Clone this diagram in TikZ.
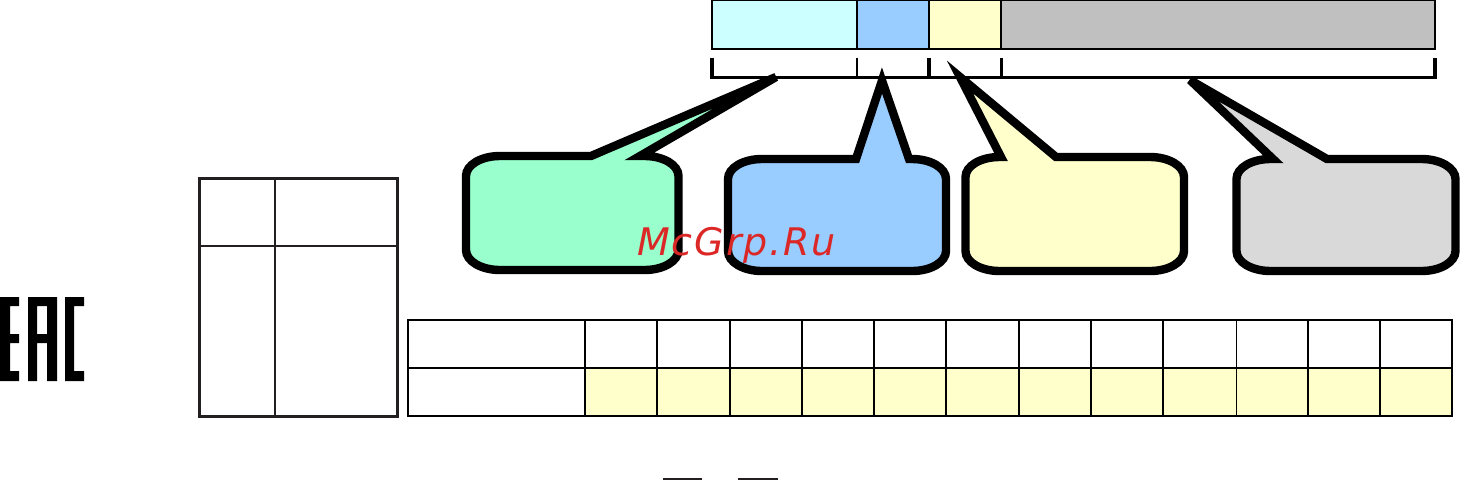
\documentclass[tikz,border=0pt]{standalone}
\usepackage{fontspec}
\newfontfamily\markfont[LetterSpace=5]{DejaVu Sans Oblique}
\definecolor{barcyan}{HTML}{CCFFFF}
\definecolor{barblue}{HTML}{99CCFF}
\definecolor{baryellow}{HTML}{FFFFCC}
\definecolor{bargray}{HTML}{C0C0C0}
\definecolor{bubgreen}{HTML}{99FFCC}
\definecolor{bubgray}{HTML}{D9D9D9}
\definecolor{markred}{HTML}{DC2727}
\definecolor{tablink}{HTML}{231F20}
% #1 left, #2 right, #3 top, #4 bottom, #5 tail start x, #6 tip, #7 tail end x, #8 fill and options
\newcommand{\bubblepath}[8]{%
  \draw[bubble,fill=#8] (#1+34,#3) -- (#5,#3) -- #6 -- (#7,#3) -- (#2-34,#3)
    .. controls +(19,0) and +(0,-11) .. (#2,#3+20) -- (#2,#4-20)
    .. controls +(0,11) and +(19,0) .. (#2-34,#4) -- (#1+34,#4)
    .. controls +(-19,0) and +(0,11) .. (#1,#4-20) -- (#1,#3+20)
    .. controls +(0,-11) and +(-19,0) .. cycle;}
\tikzset{
  bubble/.style={draw=black,line width=8.4pt,line join=miter},
  barcell/.style={draw=black,line width=1.7pt},
  gridline/.style={draw=black,line width=2.2pt},
  thinline/.style={draw=black,line width=1pt},
  brace/.style={draw=black,line width=3pt},
  lefttab/.style={draw=tablink,line width=1.8pt},
  lefttabout/.style={draw=tablink,line width=3pt},
  logo/.style={fill=black,draw=none},
  dashbar/.style={fill=tablink,draw=none}
}
\begin{document}
\begin{tikzpicture}[x=1pt,y=-1pt]
\useasboundingbox (0,0) rectangle (1460,480);
% top colour bar
\path[barcell,fill=barcyan] (712,0) rectangle (857,49);
\path[barcell,fill=barblue] (857,0) rectangle (929,49);
\path[barcell,fill=baryellow] (929,0) rectangle (1001,49);
\path[barcell,fill=bargray] (1001,0) rectangle (1435,49);
% bracket
\draw[brace] (710,77) -- (1437,77);
\draw[draw=black,line width=3.8pt] (712,58) -- (712,78);
\draw[draw=black,line width=2pt] (856.5,58) -- (856.5,77);
\draw[draw=black,line width=3.4pt] (929,58) -- (929,77);
\draw[draw=black,line width=3pt] (1001,58) -- (1001,77);
\draw[draw=black,line width=3.8pt] (1435,58) -- (1435,78);
% callouts
\bubblepath{466}{678.5}{156}{270}{591}{(776,77)}{640}{bubgreen}
\bubblepath{728}{946}{159}{271}{856}{(882,80.5)}{909}{barblue}
\bubblepath{965.5}{1184}{157}{271}{1001}{(960,77)}{1056}{baryellow}
\bubblepath{1236.5}{1455.5}{159}{271}{1273}{(1190,80)}{1327}{bubgray,miter limit=5}
% lower table
\fill[baryellow] (585,368) rectangle (1452,416);
\foreach \tx in {585,657,730,802,874,946,1019,1091,1163,1308,1380}
  \draw[gridline] (\tx,320) -- (\tx,416);
\draw[thinline] (1236,320) -- (1236,416);
\draw[gridline] (408,320) rectangle (1452,416);
\draw[gridline] (408,368) -- (1452,368);
% left table
\draw[lefttab] (275,178) -- (275,416);
\draw[lefttab] (199.5,246) -- (397.5,246);
\draw[lefttabout] (199.5,178) rectangle (397.5,416);
% EAC mark
\path[logo] (0,297) -- (19,297) -- (19,306) -- (10,306) -- (10,334) -- (19,334) -- (19,343) -- (10,343) -- (10,371) -- (19,371) -- (19,381) -- (0,381) -- cycle;
\path[logo,even odd rule] (28,297) -- (57,297) -- (57,381) -- (47,381) -- (47,343) -- (37,343) -- (37,381) -- (28,381) -- cycle (37,306) rectangle (47,334);
\path[logo] (65,297) -- (84,297) -- (84,306) -- (74,306) -- (74,371) -- (84,371) -- (84,381) -- (65,381) -- cycle;
% bottom bars
\path[dashbar] (663,478) rectangle (702,480);
\path[dashbar] (738,478) rectangle (778,480);
% watermark
\node[anchor=base west,inner sep=0pt,text=markred,font=\markfont\fontsize{38}{38}\selectfont] (wm) at (637,255) {McGrp.Ru};
\end{tikzpicture}
\end{document}
